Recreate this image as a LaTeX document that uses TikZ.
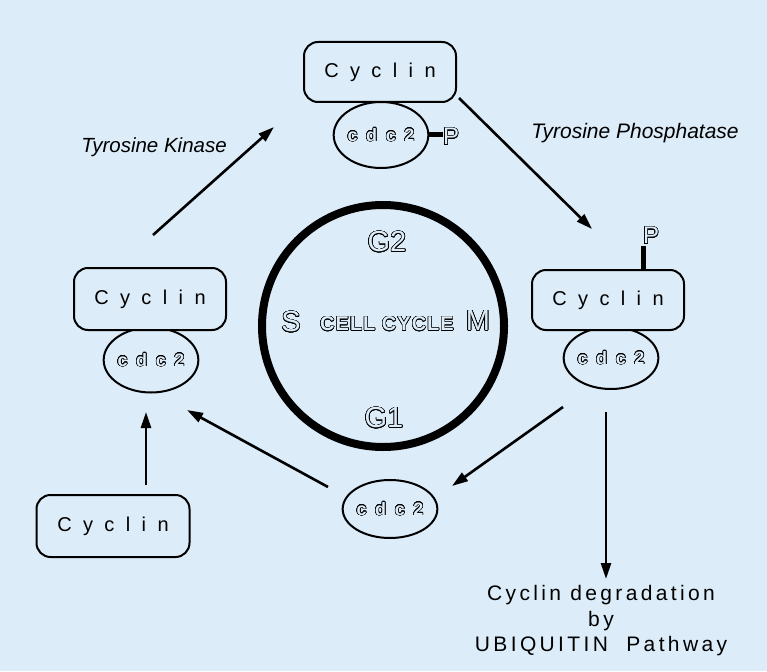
\documentclass[tikz,border=0pt]{standalone}
\usepackage{fontspec}
\setmainfont{Liberation Sans}
\usepackage[copies]{contour}
\usetikzlibrary{arrows.meta,shapes.geometric}
\definecolor{bg}{RGB}{220,236,248}
\newfontfamily\cycfont[LetterSpace=57]{Liberation Sans}
\newfontfamily\cdcfont[LetterSpace=48]{Liberation Sans Bold}
\newfontfamily\labfont[LetterSpace=16]{Liberation Sans}
\newfontfamily\itfont{Liberation Sans Italic}
\newfontfamily\bfont[LetterSpace=5]{Liberation Sans Bold}
\newfontfamily\rfont{Liberation Sans}
\contournumber{24}
\newcommand{\hollow}[2][0.6pt]{\contourlength{#1}\textcolor{bg}{\contour{black}{#2}}}
\tikzset{
  cycbox/.style={draw=black, line width=2pt, rounded corners=14pt, fill=bg,
    minimum width=152pt, minimum height=60pt, inner sep=0pt,
    font=\cycfont\fontsize{20}{22}\selectfont},
  cdcell/.style={draw=black, line width=2pt, ellipse, fill=bg,
    minimum width=93pt, minimum height=64pt, inner sep=0pt,
    font=\cdcfont\fontsize{18}{20}\selectfont},
  arr/.style={line width=2.6pt, -{Triangle[length=16pt,width=10pt]}},
  itlab/.style={font=\itfont\fontsize{20.5}{22}\selectfont, inner sep=0pt},
  phase/.style={font=\rfont\fontsize{29}{32}\selectfont, inner sep=0pt},
  pfont/.style={font=\rfont\fontsize{24}{26}\selectfont, inner sep=0pt},
  stub/.style={line width=5pt}
}
\begin{document}
\begin{tikzpicture}[x=1pt,y=-1pt]
\fill[bg] (0,0) rectangle (767,671);
\useasboundingbox (0,0) rectangle (767,671);

% cell cycle circle
\node[circle, draw=black, line width=8pt, minimum size=242pt, inner sep=0pt] (cc) at (383,326) {};
\node[phase] (g2) at (387,242) {\hollow{G2}};
\node[phase] (g1) at (384,418) {\hollow{G1}};
\node[phase] (s) at (291,322) {\hollow{S}};
\node[phase] (m) at (478,321) {\hollow{M}};
\node[font=\bfont\fontsize{20}{22}\selectfont, inner sep=0pt] (ctext) at (387,324) {\hollow[0.5pt]{CELL CYCLE}};

% top complex
\node[cdcell, minimum height=66pt] (cdcT) at (381,135) {\hollow[0.55pt]{cdc2}};
\node[cycbox] (cycT) at (380,72) {Cyclin};
\node[pfont] (pT) at (451,137) {\hollow{P}};
\draw[stub] (cdcT.east) -- (pT.west |- cdcT.east);

% right complex
\node[cdcell, minimum height=62pt] (cdcR) at (611,358) {\hollow[0.55pt]{cdc2}};
\node[cycbox] (cycR) at (608,300) {Cyclin};
\node[pfont] (pR) at (651,236) {\hollow{P}};
\coordinate (stubR) at (643,270);
\draw[stub] (stubR) -- (643,246);

% left complex
\node[cdcell, minimum height=65pt] (cdcL) at (151,360) {\hollow[0.55pt]{cdc2}};
\node[cycbox, minimum height=62pt] (cycL) at (150,299) {Cyclin};

% bottom-left cyclin
\node[cycbox, minimum width=153pt, minimum height=62pt] (cycB) at (113,526) {Cyclin};

% bottom cdc2
\node[cdcell, minimum height=58pt] (cdcB) at (390,509) {\hollow[0.55pt]{cdc2}};

% labels
\node[itlab] (tk) at (154,147) {Tyrosine Kinase};
\node[itlab, font=\itfont\fontsize{21}{22}\selectfont] (tp) at (635,133) {Tyrosine Phosphatase};
\node[font=\labfont\fontsize{21}{25.5}\selectfont, align=center, inner sep=0pt] (deg) at (601,621)
  {Cyclin degradation\\by\\UBIQUITIN\ \ Pathway};

% connector anchor coordinates
\coordinate (tkS) at (153,235);
\coordinate (tkE) at (274,127);
\coordinate (tpS) at (459,98);
\coordinate (tpE) at (592,229);
\coordinate (d1S) at (563,407);
\coordinate (d1E) at (452,486);
\coordinate (d2S) at (606,412);
\coordinate (d2E) at (606,579);
\coordinate (g1S) at (328,487);
\coordinate (g1E) at (187,410);
\coordinate (upS) at (146,485);
\coordinate (upE) at (146,412);

\draw[arr] (tkS) -- (tkE);
\draw[arr] (tpS) -- (tpE);
\draw[arr] (d1S) -- (d1E);
\draw[arr] (d2S) -- (d2E);
\draw[arr] (g1S) -- (g1E);
\draw[arr] (upS) -- (upE);
\end{tikzpicture}
\end{document}
